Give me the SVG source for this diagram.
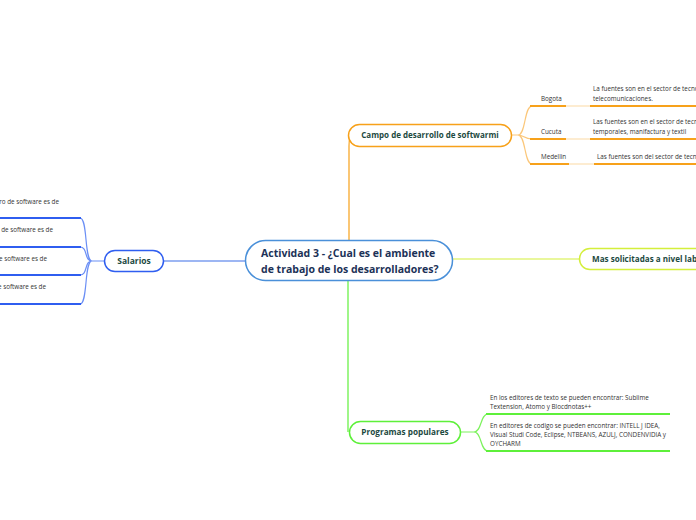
<svg xmlns="http://www.w3.org/2000/svg" width="696" height="520" viewBox="0 0 696 520">
<style>
.node{fill:#fff;stroke-width:1.5}
.t{font-family:"Open Sans","Noto Sans",sans-serif;font-weight:bold;fill:#1d4a3f}
.s{font-family:"Open Sans","Noto Sans",sans-serif;font-size:6.3px;fill:#333}
.c{fill:none;stroke-width:1.2}
.u{fill:none;stroke-width:2}
</style>
<rect width="696" height="520" fill="#fff"/>
<g id="connectors">
<path class="c" d="M349,240 V146 Q349,136 352,135" stroke="#f7a11a"/>
<path class="c" d="M348,281 V432" stroke="#5ef03a"/>
<path class="c" d="M163,261 H245" stroke="#3d6fe8"/>
<path class="c" d="M452,259 H579" stroke="#d4ef3b"/>
<path class="c" d="M512,135 H518 C526,135 524,106 532,106 M518,135 C524,135 524,139 532,139 M518,135 C526,135 524,164 532,164" stroke="#fbc77a"/>
<path class="c" d="M566,106 H590 M566,139 H590 M569,164 H594" stroke="#fcd9a3"/>
<path class="u" d="M530,106 H566 M590,106 H696 M530,139 H566 M590,139 H696 M530,164 H569 M594,164 H696" stroke="#f7a11a"/>
<path class="c" d="M461,432 H474 C482,432 480,414 488,414 M474,432 C482,432 480,451 488,451" stroke="#7cf25c"/>
<path class="u" d="M486,414 H670 M486,451 H670" stroke="#5ef03a"/>
<path class="c" d="M104,261 H92 C84,261 88,218 80,218 M92,261 C84,261 88,247 80,247 M92,261 C84,261 88,275 80,275 M92,261 C84,261 88,304 80,304" stroke="#6b8ff5"/>
<path class="u" d="M0,218 H81 M0,247 H81 M0,275 H81 M0,304 H81" stroke="#2f5ef0"/>
</g>
<g id="central">
<rect class="node" x="245.5" y="240.5" width="207" height="40" rx="20" stroke="#4a90d9"/>
<text class="t" font-size="10.5" style="fill:#1c3257"><tspan x="261" y="257">Actividad 3 - ¿Cual es el ambiente</tspan><tspan x="261" y="273">de trabajo de los desarrolladores?</tspan></text>
</g>
<g id="campo">
<rect class="node" x="348.5" y="124.5" width="163" height="22" rx="11" stroke="#f7a11a"/>
<text class="t" font-size="8" x="430" y="138" text-anchor="middle">Campo de desarrollo de softwarmi</text>
</g>
<g id="bogota">
<text class="s" x="541" y="101">Bogota</text>
<text class="s"><tspan x="593" y="91">La fuentes son en el sector de tecnol</tspan><tspan x="593" y="101">telecomunicaciones.</tspan></text>
</g>
<g id="cucuta">
<text class="s" x="541" y="134">Cucuta</text>
<text class="s"><tspan x="593" y="124">Las fuentes son en el sector de tecno</tspan><tspan x="593" y="134">temporales, manifactura y textil</tspan></text>
</g>
<g id="medellin">
<text class="s" x="541" y="159">Medellin</text>
<text class="s" x="597" y="159">Las fuentes son del sector de tecno</text>
</g>
<g id="mas">
<rect class="node" x="579.5" y="248.5" width="130" height="21" rx="10.5" stroke="#d4ef3b"/>
<text class="t" font-size="8.1" x="592" y="262">Mas solicitadas a nivel lab</text>
</g>
<g id="programas">
<rect class="node" x="349.5" y="421.5" width="111" height="22" rx="11" stroke="#5ef03a"/>
<text class="t" font-size="8.2" x="405" y="435" text-anchor="middle">Programas populares</text>
</g>
<g id="editores-texto">
<text class="s"><tspan x="490" y="400">En los editores de texto se pueden encontrar: Sublime</tspan><tspan x="490" y="409">Textension, Atomo y Blocdnotas++</tspan></text>
</g>
<g id="editores-codigo">
<text class="s"><tspan x="490" y="428">En editores de codigo se pueden encontrar: INTELL J IDEA,</tspan><tspan x="490" y="437">Visual Studi Code, Eclipse, NTBEANS, AZULJ, CONDENVIDIA y</tspan><tspan x="490" y="446">OYCHARM</tspan></text>
</g>
<g id="salarios">
<rect class="node" x="104.5" y="250.5" width="59" height="21" rx="10.5" stroke="#2f5ef0"/>
<text class="t" font-size="8.5" x="134" y="264" text-anchor="middle">Salarios</text>
</g>
<g id="sal1"><text class="s" x="59" y="204" text-anchor="end">ero de software es de</text></g>
<g id="sal2"><text class="s" x="53" y="232" text-anchor="end">o de software es de</text></g>
<g id="sal3"><text class="s" x="47" y="261" text-anchor="end">de software es de</text></g>
<g id="sal4"><text class="s" x="46" y="289" text-anchor="end">e software es de</text></g>
</svg>
